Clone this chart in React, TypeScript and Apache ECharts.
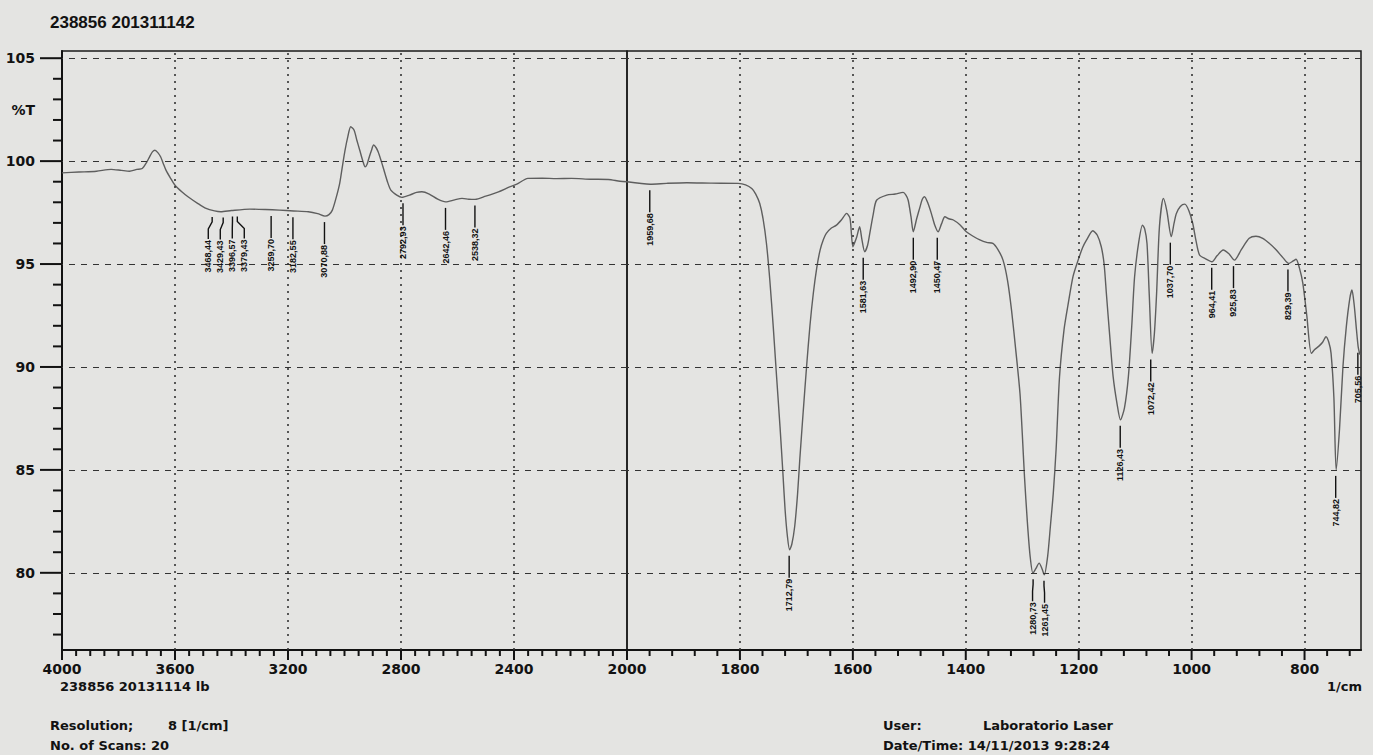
import React, { useEffect, useRef } from 'react';
import * as echarts from 'echarts';

// Spectrum: wavenumber (1/cm) and transmittance (%T)
const wavenumbers = [
  4000, 3940, 3878, 3826, 3790, 3761, 3735, 3716, 3700, 3690, 3680, 3671, 3660, 3651, 3642, 3632, 3615, 3600,
  3575, 3554, 3520, 3490, 3460, 3438, 3400, 3335, 3280, 3231, 3180, 3128, 3095, 3069, 3055, 3043, 3030, 3017,
  3008, 2998, 2988, 2978, 2966, 2956, 2946, 2935, 2927, 2920, 2914, 2905, 2897, 2888, 2881, 2870, 2862, 2848,
  2836, 2815, 2797, 2770, 2745, 2726, 2700, 2670, 2642, 2610, 2584, 2560, 2538, 2500, 2455, 2420, 2390, 2351,
  2300, 2250, 2196, 2130, 2066, 2025, 2000,
  1959, 1930, 1894, 1850, 1803, 1790, 1779, 1772, 1765, 1759, 1753, 1747, 1741, 1735, 1729, 1724, 1720, 1716,
  1712, 1708, 1703, 1698, 1694, 1688, 1682, 1676, 1670, 1664, 1658, 1652, 1647, 1638, 1629, 1620, 1611, 1605,
  1600, 1596, 1593, 1588, 1584, 1579, 1574, 1570, 1564, 1558, 1540, 1525, 1511, 1506, 1502, 1497, 1493, 1487,
  1481, 1477, 1473, 1467, 1461, 1455, 1449, 1443, 1437, 1430, 1422, 1410, 1399, 1387, 1375, 1363, 1352, 1343,
  1334, 1326, 1319, 1311, 1304, 1300, 1296, 1291, 1286, 1281, 1276, 1270, 1265, 1261, 1255, 1250, 1245, 1240,
  1234, 1226, 1219, 1210, 1201, 1193, 1186, 1175, 1167, 1160, 1155, 1151, 1145, 1139, 1132, 1126, 1119, 1112,
  1106, 1101, 1094, 1087, 1083, 1079, 1075, 1070, 1066, 1062, 1057, 1050, 1044, 1036, 1031, 1027, 1020, 1012,
  1005, 998, 992, 986, 975, 964, 955, 944, 934, 924, 912, 898, 886, 874, 862, 850, 838, 828,
  820, 815, 809, 803, 796, 788, 782, 775, 768, 762, 757, 753, 748, 744, 738, 732, 726, 720,
  716, 712, 708, 705, 702,
];
const transmittance = [
  99.43, 99.47, 99.51, 99.6, 99.55, 99.51, 99.6, 99.64, 99.95, 100.21, 100.45, 100.53, 100.4, 100.21, 99.9, 99.56, 99.15, 98.83,
  98.5, 98.27, 97.95, 97.7, 97.58, 97.54, 97.6, 97.67, 97.65, 97.62, 97.58, 97.54, 97.45, 97.33, 97.4, 97.62, 98.2, 98.92,
  99.7, 100.53, 101.2, 101.67, 101.5, 101.0, 100.53, 100.0, 99.72, 99.85, 100.13, 100.5, 100.78, 100.65, 100.45, 100.0, 99.64, 99.0,
  98.59, 98.35, 98.24, 98.35, 98.48, 98.51, 98.4, 98.15, 98.02, 98.12, 98.19, 98.15, 98.14, 98.3, 98.51, 98.72, 98.88, 99.16,
  99.17, 99.15, 99.16, 99.12, 99.11, 99.02, 99.0,
  98.88, 98.92, 98.95, 98.93, 98.92, 98.85, 98.67, 98.4, 97.95, 97.2, 96.0, 94.2, 91.96, 89.5, 87.1, 84.9, 83.06, 81.8,
  81.12, 81.4, 82.25, 83.8, 85.49, 87.8, 90.0, 92.0, 93.58, 94.8, 95.68, 96.2, 96.49, 96.75, 96.89, 97.15, 97.46, 97.22,
  95.84, 96.1, 96.33, 96.81, 96.2, 95.6, 95.9, 96.49, 97.4, 98.1, 98.35, 98.4, 98.48, 98.35, 98.1, 97.3, 96.57, 97.2,
  97.78, 98.15, 98.27, 97.95, 97.46, 96.9, 96.57, 96.95, 97.3, 97.2, 97.14, 96.9, 96.57, 96.35, 96.17, 96.05, 96.0, 95.7,
  95.19, 94.2, 92.77, 90.7, 88.72, 86.8, 84.67, 82.5, 80.8, 79.98, 80.2, 80.47, 80.2, 79.9, 80.8, 82.3, 83.87, 86.0,
  89.5, 91.8, 93.0, 94.4, 95.19, 95.8, 96.17, 96.62, 96.4, 95.84, 95.0, 93.58, 91.5, 89.53, 88.2, 87.43, 88.0, 89.53,
  92.0, 94.38, 96.0, 96.89, 96.7, 96.0, 93.5, 90.66, 91.6, 93.58, 96.81, 98.19, 97.6, 96.33, 97.0, 97.46, 97.8, 97.91,
  97.6, 96.97, 96.1, 95.44, 95.25, 95.11, 95.4, 95.68, 95.5, 95.19, 95.7, 96.25, 96.35, 96.25, 96.0, 95.68, 95.3, 95.03,
  95.15, 95.23, 94.8, 94.06, 92.5, 90.66, 90.85, 91.0, 91.2, 91.47, 91.2, 90.66, 88.5, 85.0, 87.0, 90.0, 91.96, 93.3,
  93.74, 93.0, 91.8, 90.98, 90.6,
];

// Peak picks
const peakWavenumbers = [
  3468.44, 3429.43, 3396.57, 3379.43, 3259.7, 3182.55, 3070.88, 2792.93, 2642.46, 2538.32,
  1959.68, 1712.79, 1581.63, 1492.9, 1450.47, 1280.73, 1261.45, 1126.43, 1072.42, 1037.7,
  964.41, 925.83, 829.39, 744.82, 705.56,
];
const peakTransmittance = [
  97.58, 97.55, 97.6, 97.6, 97.63, 97.56, 97.33, 98.24, 98.02, 98.14,
  98.88, 81.12, 95.6, 96.57, 96.57, 79.98, 79.9, 87.43, 90.66, 96.33,
  95.11, 95.19, 95.03, 85.0, 90.98,
];

const yMajorTicks = [80, 85, 90, 95, 100, 105];
const yLabelValues = [80, 85, 90, 95, 100, 102.5, 105];
const xLabelsLeft = [4000, 3600, 3200, 2800, 2400, 2000];
const xLabelsRight = [1800, 1600, 1400, 1200, 1000, 800];
const xGridLeft = [3600, 3200, 2800, 2400];
const xGridRight = [1800, 1600, 1400, 1200, 1000, 800];

const Y_MIN = 76.25;
const Y_MAX = 105.35;
const BG = '#e4e4e2';
const INK = '#121212';
const AXIS_FONT = '"DejaVu Sans", sans-serif';

const yMinorTicks: number[] = [];
for (let v = 77; v <= 104; v++) if (v % 5 !== 0) yMinorTicks.push(v);
const xMinorLeft: number[] = [];
for (let v = 2050; v <= 3950; v += 50) if (v % 400 !== 0) xMinorLeft.push(v);
const xMinorRight: number[] = [];
for (let v = 720; v <= 1960; v += 40) if (v % 200 !== 0) xMinorRight.push(v);

type Peak = { wn: number; t: number; lw: number; text: string };

function spreadLabels(list: Peak[], minSep: number) {
  const arr = list.slice().sort((a, b) => b.wn - a.wn);
  for (let it = 0; it < 80; it++) {
    for (let i = 1; i < arr.length; i++) {
      const gap = arr[i - 1].lw - arr[i].lw;
      if (gap < minSep) {
        const d = (minSep - gap) / 2;
        arr[i - 1].lw += d;
        arr[i].lw -= d;
      }
    }
  }
  return arr;
}

const allPeaks: Peak[] = peakWavenumbers.map((wn, i) => ({
  wn,
  t: peakTransmittance[i],
  lw: wn,
  text: wn.toFixed(2).replace('.', ','),
}));
const leftPeaks = spreadLabels(allPeaks.filter((p) => p.wn > 2000), 12 * (2000 / 565));
const rightPeaks = spreadLabels(allPeaks.filter((p) => p.wn < 2000), 12 * (1300 / 734));

function peakSeries(xi: number, yi: number, peaks: Peak[]) {
  return {
    type: 'custom',
    xAxisIndex: xi,
    yAxisIndex: yi,
    clip: false,
    silent: true,
    z: 5,
    data: peaks.map((p) => [p.wn, p.t, p.lw]),
    encode: { x: 0, y: 1 },
    renderItem: (params: any, api: any) => {
      const p = api.coord([api.value(0), api.value(1)]);
      const lx = api.coord([api.value(2), api.value(1)])[0];
      const y0 = p[1] + 6;
      return {
        type: 'group',
        children: [
          {
            type: 'polyline',
            shape: { points: [[p[0], y0], [p[0], y0 + 5], [lx, y0 + 12], [lx, y0 + 22]] },
            style: { stroke: INK, lineWidth: 1.4, fill: null },
          },
          {
            type: 'text',
            x: lx,
            y: y0 + 23,
            rotation: Math.PI / 2,
            style: {
              text: peaks[params.dataIndex].text,
              align: 'right',
              verticalAlign: 'middle',
              fill: INK,
              font: 'bold 9px "Liberation Sans", Arial, sans-serif',
            },
          },
        ],
      };
    },
  };
}

// Tick marks drawn through the axes' own scale (custom series, unclipped)
function tickSeries(xi: number, yi: number, dir: 'x' | 'y', values: number[], len: number, anchor: number) {
  return {
    type: 'custom',
    xAxisIndex: xi,
    yAxisIndex: yi,
    clip: false,
    silent: true,
    z: 6,
    data: values.map((v) => (dir === 'x' ? [v, anchor] : [anchor, v])),
    encode: { x: 0, y: 1 },
    renderItem: (params: any, api: any) => {
      const p = api.coord([api.value(0), api.value(1)]);
      const shape = dir === 'x'
        ? { x1: p[0], y1: p[1], x2: p[0], y2: p[1] + len }
        : { x1: p[0] - len, y1: p[1], x2: p[0], y2: p[1] };
      return { type: 'line', shape, style: { stroke: INK, lineWidth: 2 } };
    },
  };
}

function gridMarkLines(xs: number[]) {
  return {
    silent: true,
    symbol: ['none', 'none'],
    label: { show: false },
    animation: false,
    data: [
      ...yMajorTicks.map((v) => ({ yAxis: v, lineStyle: { type: [6, 6], color: '#333', width: 1.1 } })),
      ...xs.map((v) => ({ xAxis: v, lineStyle: { type: [2, 5], color: '#333', width: 1.6 } })),
    ],
  };
}

const leftData: number[][] = [];
const rightData: number[][] = [];
wavenumbers.forEach((w, i) => {
  if (w >= 2000) leftData.push([w, transmittance[i]]);
  if (w <= 2000) rightData.push([w, transmittance[i]]);
});

const infoText = (text: string, left: number, top: number, size = 13, family = AXIS_FONT) => ({
  type: 'text',
  left,
  top,
  silent: true,
  style: { text, fill: INK, font: `bold ${size}px ${family}` },
});

export default function App() {
  const ref = useRef<HTMLDivElement>(null);
  useEffect(() => {
    if (!ref.current) return;
    const chart = echarts.init(ref.current, undefined, { renderer: 'svg' });
    const axisLine = { show: true, lineStyle: { color: INK, width: 2 } };
    const labelStyle = { color: INK, fontFamily: AXIS_FONT, fontWeight: 'bold', fontSize: 14 };
    const plain = (v: number) => String(v);
    const option: any = {
      animation: false,
      backgroundColor: BG,
      grid: [
        { left: 62, top: 51, width: 565, height: 599, show: true, borderColor: '#1a1a1a', borderWidth: 1.5, backgroundColor: 'transparent' },
        { left: 627, top: 51, width: 734, height: 599, show: true, borderColor: '#1a1a1a', borderWidth: 1.5, backgroundColor: 'transparent' },
      ],
      xAxis: [
        {
          type: 'value', gridIndex: 0, position: 'bottom', min: 2000, max: 4000, interval: 400, inverse: true,
          axisLine, axisTick: { show: false },
          splitLine: { show: false },
          axisLabel: { ...labelStyle, margin: 12, formatter: plain },
        },
        {
          type: 'value', gridIndex: 1, position: 'bottom', min: 700, max: 2000, inverse: true,
          axisLine, axisTick: { show: false },
          splitLine: { show: false },
          axisLabel: { ...labelStyle, margin: 12, customValues: xLabelsRight, formatter: plain },
        },
      ],
      yAxis: [
        {
          type: 'value', gridIndex: 0, position: 'left', min: Y_MIN, max: Y_MAX,
          axisLine, axisTick: { show: false },
          splitLine: { show: false },
          axisLabel: {
            ...labelStyle, margin: 27, customValues: yLabelValues,
            formatter: (v: number) => (v === 102.5 ? '%T' : String(v)),
          },
        },
        { type: 'value', gridIndex: 1, position: 'left', min: Y_MIN, max: Y_MAX, show: false, splitLine: { show: false } },
      ],
      series: [
        {
          type: 'line', xAxisIndex: 0, yAxisIndex: 0, data: leftData, showSymbol: false, smooth: 0.25,
          lineStyle: { color: '#5e5e5e', width: 1.4 }, silent: true, z: 3,
          markLine: gridMarkLines(xGridLeft),
        },
        {
          type: 'line', xAxisIndex: 1, yAxisIndex: 1, data: rightData, showSymbol: false, smooth: 0.25,
          lineStyle: { color: '#5e5e5e', width: 1.4 }, silent: true, z: 3,
          markLine: gridMarkLines(xGridRight),
        },
        peakSeries(0, 0, leftPeaks),
        peakSeries(1, 1, rightPeaks),
        tickSeries(0, 0, 'y', yMajorTicks, 22, 4000),
        tickSeries(0, 0, 'y', yMinorTicks, 9, 4000),
        tickSeries(0, 0, 'x', xLabelsLeft, 10, Y_MIN),
        tickSeries(0, 0, 'x', xMinorLeft, 6, Y_MIN),
        tickSeries(1, 1, 'x', xLabelsRight, 10, Y_MIN),
        tickSeries(1, 1, 'x', xMinorRight, 6, Y_MIN),
      ],
      graphic: {
        elements: [
          infoText('238856 201311142', 50, 14, 17, '"Liberation Sans", Arial, sans-serif'),
          infoText('238856 20131114 lb', 60, 680),
          infoText('Resolution;', 50, 719),
          infoText('8 [1/cm]', 168, 719),
          infoText('No. of Scans: 20', 50, 739),
          infoText('User:', 883, 719),
          infoText('Laboratorio Laser', 983, 719),
          infoText('Date/Time: 14/11/2013 9:28:24', 883, 739),
          infoText('1/cm', 1327, 680),
        ],
      },
    };
    chart.setOption(option);
    return () => chart.dispose();
  }, []);
  return (
    <div
      ref={ref}
      style={{ position: 'fixed', left: 0, top: 0, width: 1373, height: 755, background: BG }}
    />
  );
}
